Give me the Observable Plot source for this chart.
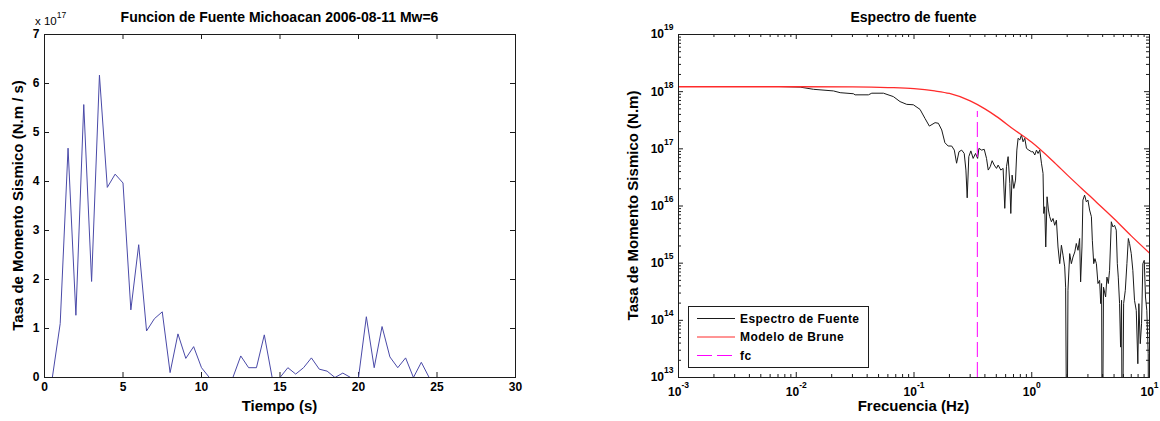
<!DOCTYPE html>
<html>
<head>
<meta charset="utf-8">
<script src="https://cdn.jsdelivr.net/npm/d3@7"></script>
<script src="https://cdn.jsdelivr.net/npm/@observablehq/plot@0.6"></script>
<style>
  html, body { margin: 0; padding: 0; background: #fff; }
  #wrap { position: relative; width: 1160px; height: 421px; overflow: hidden; background: #fff; }
  #wrap svg { position: absolute; top: 0; }
</style>
</head>
<body>
<div id="wrap"></div>
<script>
// ---------- Left panel: source time function (values in units of 1e17 N.m/s) ----------
const tiempo = [0.5,1,1.5,2,2.5,3,3.5,4,4.5,5,5.5,6,6.5,7,7.5,8,8.5,9,9.5,10,10.5,11,11.5,12,12.5,13,13.5,14,14.5,15,15.5,16,16.5,17,17.5,18,18.5,19,19.5,20,20.5,21,21.5,22,22.5,23,23.5,24,24.5,25];
const tasa = [0,1.10,4.68,1.27,5.57,1.96,6.17,3.88,4.15,3.97,1.38,2.71,0.95,1.20,1.34,0.10,0.89,0.39,0.63,0.20,0,0,0,0,0.44,0.20,0.20,0.87,0,0,0.20,0.07,0.20,0.40,0.17,0.13,0,0.09,0,0,1.24,0.20,1.04,0.42,0.20,0.40,0,0.31,0,0];
const xTicksIzq = [0,5,10,15,20,25,30];
const yTicksIzq = [0,1,2,3,4,5,6,7];

// ---------- Right panel: source spectrum ----------
const frecuencia = [0.00718,0.0108,0.0140,0.0207,0.0236,0.0306,0.0316,0.0410,0.0438,0.0550,0.0668,0.0761,0.0867,0.0987,0.1125,0.124,0.135,0.151,0.161,0.172,0.183,0.195,0.209,0.220,0.230,0.241,0.254,0.267,0.276,0.283,0.292,0.304,0.318,0.333,0.347,0.356,0.375,0.395,0.413,0.427,0.444,0.461,0.480,0.502,0.518,0.546,0.571,0.590,0.610,0.630,0.651,0.664,0.681,0.704,0.728,0.747,0.766,0.792,0.818,0.844,0.873,0.902,0.944,0.994,1.026,1.061,1.097,1.131,1.169,1.209,1.247,1.265,1.289,1.315,1.349,1.386,1.421,1.469,1.516,1.567,1.62,1.671,1.728,1.786,1.843,1.905,1.94,1.99,2.03,2.10,2.17,2.24,2.32,2.39,2.47,2.55,2.60,2.67,2.72,2.81,2.91,3.00,3.10,3.21,3.27,3.36,3.44,3.54,3.65,3.77,3.85,3.92,3.97,4.07,4.24,4.35,4.47,4.58,4.74,4.89,5.05,5.22,5.33,5.43,5.57,5.68,5.79,5.87,6.03,6.23,6.43,6.61,6.77,7.0,7.22,7.46,7.72,7.96,8.12,8.35,8.56,8.78,9.02,9.25,9.49,9.75,9.86];
const espectro = [1.23e18,1.20e18,1.10e18,1.03e18,9.6e17,9.2e17,8.8e17,8.8e17,9.4e17,9.4e17,8.2e17,6.7e17,6.0e17,5.9e17,4.9e17,3.4e17,2.5e17,2.87e17,2.80e17,2.14e17,1.28e17,1.12e17,1.12e17,9.5e16,5.6e16,8.9e16,9.5e16,8.3e16,4.25e16,1.39e16,7.3e16,9.2e16,6.8e16,8.3e16,6.8e16,1.02e17,9.5e16,9.8e16,6.8e16,4.25e16,4.86e16,6.2e16,5.2e16,4.55e16,5.2e16,4.25e16,4.55e16,9.1e15,4.86e16,7.3e16,2.49e16,7.4e15,3.47e16,2.03e16,2.84e16,9.5e16,1.53e17,1.43e17,1.75e17,1.33e17,1.53e17,1.02e17,9.5e16,8.9e16,8.9e16,7.8e16,9.5e16,8.3e16,9.5e16,5.6e16,3.72e16,7.4e15,9.7e15,1.92e15,1.45e16,8.5e15,6.5e15,5.3e15,6.05e15,4.6e15,5.65e15,1.92e15,9.8e14,2.06e15,1.38e15,8.6e14,3.8e14,1e11,3.35e14,1.47e15,9.8e14,1.28e15,1.57e15,2.21e15,1.68e15,2.7e15,4.7e14,1.92e15,1.27e16,1.55e16,1.18e16,1.27e16,8.5e15,6.5e15,2.52e15,9.8e14,1.2e15,9.8e14,4.4e14,5.0e14,1.96e14,4.4e14,1e11,3.8e14,2.56e14,5.7e14,4.4e14,7.5e14,5.3e15,4.3e15,4.6e15,3.78e15,9.8e14,5.7e14,1.96e14,3.4e13,2.24e14,1e11,1.96e14,3.35e14,9.8e14,2.7e15,2.21e15,1.47e15,7.5e14,2.24e14,1.49e14,1.74e13,1.96e14,3.9e13,8.7e13,9.8e14,1.12e15,2.56e14,1.49e14,2.6e13,1e11];
const bruneFrec = [0.001,0.01,0.03,0.06,0.1,0.15,0.2,0.3,0.4,0.5,0.7,1,1.5,2,3,5,7,10];
const bruneVal = [1.22e18,1.22e18,1.21e18,1.18e18,1.13e18,1.03e18,9.3e17,6.9e17,5.0e17,3.7e17,2.2e17,1.3e17,6.2e16,3.5e16,1.6e16,6.0e15,3.0e15,1.5e15];
const fc = 0.345;
const fcTope = 4.5e17;
const xDecadas = [1e-3,1e-2,1e-1,1,10];
const yDecadas = [1e13,1e14,1e15,1e16,1e17,1e18,1e19];

const leyenda = ["Espectro de Fuente", "Modelo de Brune", "fc"];
const colores = {espectro: "#1a1a1a", brune: "#ff2b2b", fc: "#ff00ff", izq: "#4a4aa8"};

// ---------- layout ----------
const FONT = "'Liberation Sans', Arial, Helvetica, sans-serif";
const H = 421, MT = 34, MB = 44, IH = H - MT - MB;
const WL = 560, MLL = 44, MRL = 45, IWL = WL - MLL - MRL;
const WR = 560, MLR = 78, MRR = 11, IWR = WR - MLR - MRR;
const FRAME = "#1c1c1c";

function boxTicks(xs, ys, iw, ih, len) {
  return [
    Plot.ruleX(xs, {insetTop: ih - len, stroke: FRAME}),
    Plot.ruleX(xs, {insetBottom: ih - len, stroke: FRAME}),
    Plot.ruleY(ys, {insetRight: iw - len, stroke: FRAME}),
    Plot.ruleY(ys, {insetLeft: iw - len, stroke: FRAME})
  ];
}
const plotStyle = {fontFamily: FONT, fontSize: "12px", fontWeight: "bold", color: "#000", background: "transparent", overflow: "visible"};

const izq = Plot.plot({
  width: WL, height: H, marginLeft: MLL, marginRight: MRL, marginTop: MT, marginBottom: MB,
  style: plotStyle,
  x: {domain: [0, 30]},
  y: {domain: [0, 7]},
  marks: [
    ...boxTicks(xTicksIzq, yTicksIzq, IWL, IH, 5),
    Plot.line(tiempo, {x: tiempo, y: tasa, stroke: colores.izq, strokeWidth: 1}),
    Plot.axisX(xTicksIzq, {anchor: "bottom", tickSize: 0, tickPadding: 5, label: null}),
    Plot.axisY(yTicksIzq, {anchor: "left", tickSize: 0, tickPadding: 5, label: null}),
    Plot.frame({stroke: FRAME})
  ]
});
izq.style.left = "0px";

const minX = d3.scaleLog().domain([1e-3, 10]).ticks().filter(d => !xDecadas.some(v => Math.abs(v - d) / v < 1e-6));
const minY = d3.scaleLog().domain([1e13, 1e19]).ticks().filter(d => !yDecadas.some(v => Math.abs(v - d) / v < 1e-6));

const der = Plot.plot({
  width: WR, height: H, marginLeft: MLR, marginRight: MRR, marginTop: MT, marginBottom: MB,
  style: plotStyle,
  x: {type: "log", domain: [1e-3, 10]},
  y: {type: "log", domain: [1e13, 1e19]},
  marks: [
    ...boxTicks(minX, minY, IWR, IH, 3),
    ...boxTicks(xDecadas, yDecadas, IWR, IH, 5),
    Plot.line(frecuencia, {x: frecuencia, y: espectro, stroke: colores.espectro, strokeWidth: 1, clip: true}),
    Plot.line(bruneFrec, {x: bruneFrec, y: bruneVal, stroke: colores.brune, strokeWidth: 1.3, curve: "monotone-x", clip: true}),
    Plot.ruleX([fc], {y1: 1e13, y2: fcTope, stroke: colores.fc, strokeWidth: 1, strokeDasharray: "15,5"}),
    Plot.axisX(xDecadas, {anchor: "bottom", tickSize: 0, tickPadding: 10, label: null, tickFormat: d => "10^" + Math.round(Math.log10(d))}),
    Plot.axisY(yDecadas, {anchor: "left", tickSize: 0, tickPadding: 5, label: null, tickFormat: d => "10^" + Math.round(Math.log10(d))}),
    Plot.frame({stroke: FRAME})
  ]
});
der.style.left = "600px";

// superscript exponents on the log axes
d3.select(der).selectAll('g[aria-label="x-axis tick label"] text, g[aria-label="y-axis tick label"] text').each(function () {
  const parts = this.textContent.split("^");
  const t = d3.select(this);
  t.text(null);
  t.append("tspan").text(parts[0]);
  t.append("tspan").attr("dy", -8).attr("font-size", 8.5).text(parts[1]);
});

const wrap = document.getElementById("wrap");
wrap.appendChild(izq);
wrap.appendChild(der);

// ---------- overlay: titles, axis labels, multiplier, legend ----------
const ov = d3.select(wrap).append("svg")
  .attr("width", 1160).attr("height", 421)
  .style("left", "0px").style("pointer-events", "none")
  .attr("font-family", FONT).attr("font-weight", "bold").attr("fill", "#000");

const cxL = MLL + IWL / 2, cxR = 600 + MLR + IWR / 2, cy = MT + IH / 2;
ov.append("text").attr("x", cxL).attr("y", 22).attr("text-anchor", "middle").attr("font-size", 14)
  .text("Funcion de Fuente Michoacan 2006-08-11 Mw=6");
ov.append("text").attr("x", cxR).attr("y", 22).attr("text-anchor", "middle").attr("font-size", 14)
  .text("Espectro de fuente");
ov.append("text").attr("x", cxL).attr("y", 411).attr("text-anchor", "middle").attr("font-size", 15)
  .text("Tiempo (s)");
ov.append("text").attr("x", cxR).attr("y", 411).attr("text-anchor", "middle").attr("font-size", 15)
  .text("Frecuencia (Hz)");
ov.append("text").attr("transform", `translate(23,${cy}) rotate(-90)`).attr("text-anchor", "middle").attr("font-size", 15)
  .text("Tasa de Momento Sismico (N.m / s)");
ov.append("text").attr("transform", `translate(638,${cy}) rotate(-90)`).attr("text-anchor", "middle").attr("font-size", 15)
  .text("Tasa de Momento Sismico (N.m)");
const mult = ov.append("text").attr("x", 35).attr("y", 25).attr("font-size", 11.5).attr("font-weight", "normal");
mult.append("tspan").text("x 10");
mult.append("tspan").attr("dy", -7).attr("font-size", 8.5).text("17");

// legend
const lg = ov.append("g");
lg.append("rect").attr("x", 688.5).attr("y", 306.5).attr("width", 180).attr("height", 61)
  .attr("fill", "#fff").attr("stroke", FRAME).attr("stroke-width", 1);
const filas = [318.5, 337, 355.5];
const estilos = [
  {stroke: colores.espectro, dash: null},
  {stroke: colores.brune, dash: null},
  {stroke: colores.fc, dash: "15,5"}
];
leyenda.forEach((txt, i) => {
  lg.append("line").attr("x1", 697).attr("x2", 735).attr("y1", filas[i]).attr("y2", filas[i])
    .attr("stroke", estilos[i].stroke).attr("stroke-width", 1)
    .attr("stroke-dasharray", estilos[i].dash);
  lg.append("text").attr("x", 740).attr("y", filas[i]).attr("dy", "0.36em")
    .attr("font-size", 12).attr("letter-spacing", "0.45px").text(txt);
});
</script>
</body>
</html>
